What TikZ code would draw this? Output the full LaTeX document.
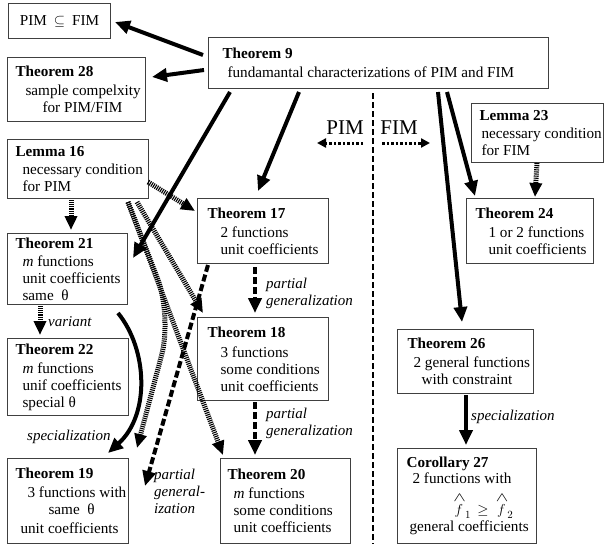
\documentclass[tikz,border=0pt]{standalone}
\usepackage{fontspec}
\setmainfont{Liberation Serif}
\usetikzlibrary{arrows.meta}
\newcommand\boxfont{\fontsize{15.2}{17}\selectfont}
\newcommand\lblfont{\fontsize{15}{17}\selectfont\itshape}
\newcommand\hatf[1]{\stackrel{\raisebox{1pt}{\scalebox{1.3}[0.9]{$\wedge$}}}{f}_{#1}}
\begin{document}
\begin{tikzpicture}[x=1pt,y=-1pt,
  box/.style={draw=black!75, line width=1.1pt, anchor=north west, inner xsep=0pt, inner ysep=0pt, align=left, font=\boxfont},
  lbl/.style={font=\lblfont, inner sep=0pt, anchor=west, align=left},
  solidarr/.style={line width=4pt, -{Triangle[length=15pt,width=13pt]}},
  dasharr/.style={line width=4pt, dash pattern=on 7pt off 3pt, -{Triangle[length=15pt,width=13pt]}},
  hatcharr/.style={line width=5pt, dash pattern=on 1.1pt off 1pt, -{Triangle[length=14pt,width=12pt]}},
  dotarr/.style={line width=3pt, dash pattern=on 2.5pt off 2pt, -{Triangle[length=9pt,width=9pt]}},
  sidelabel/.style={font=\fontsize{21}{21}\selectfont, inner sep=0pt, anchor=base}
]
\useasboundingbox (0,0) rectangle (605,544);

% boxes
\node[box,minimum width=102pt,minimum height=35pt,align=center] (pf) at (8,3) {PIM\hspace{7pt}$\subseteq$\hspace{7pt}FIM};
\node[box,minimum width=138pt,minimum height=64pt] (t28) at (7,57)
  {\makebox[138pt][l]{\hspace*{8pt}\textbf{Theorem 28}}\\[2pt]\hspace*{18pt}sample compelxity\\\hspace*{35pt}for PIM/FIM};
\node[box,minimum width=340pt,minimum height=51pt] (t9) at (208,37)
  {\makebox[340pt][l]{\hspace*{14pt}\textbf{Theorem 9}}\\[2pt]\hspace*{19pt}fundamantal characterizations of PIM and FIM};
\node[box,minimum width=132pt,minimum height=59pt] (l23) at (471,103)
  {\makebox[132pt][l]{\hspace*{8pt}\textbf{Lemma 23}}\\[1pt]\hspace*{10pt}necessary condition\\\hspace*{10pt}for FIM};
\node[box,minimum width=141pt,minimum height=59pt] (l16) at (7,139)
  {\makebox[141pt][l]{\hspace*{8pt}\textbf{Lemma 16}}\\[1pt]\hspace*{15pt}necessary condition\\\hspace*{15pt}for PIM};
\node[box,minimum width=131pt,minimum height=65pt] (t17) at (197,198)
  {\makebox[131pt][l]{\hspace*{10pt}\textbf{Theorem 17}}\\[2pt]\hspace*{23pt}2 functions\\\hspace*{23pt}unit coefficients};
\node[box,minimum width=127pt,minimum height=65pt] (t24) at (466,198)
  {\makebox[127pt][l]{\hspace*{9pt}\textbf{Theorem 24}}\\[2pt]\hspace*{22pt}1 or 2 functions\\\hspace*{22pt}unit coefficients};
\node[box,minimum width=120pt,minimum height=71pt] (t21) at (7,233)
  {\makebox[120pt][l]{\hspace*{8pt}\textbf{Theorem 21}}\\[1pt]\hspace*{15pt}\textit{m} functions\\\hspace*{15pt}unit coefficients\\\hspace*{15pt}same\ \ θ};
\node[box,minimum width=121pt,minimum height=77pt] (t22) at (7,338)
  {\makebox[121pt][l]{\hspace*{8pt}\textbf{Theorem 22}}\\[2pt]\hspace*{15pt}\textit{m} functions\\\hspace*{15pt}unif coefficients\\\hspace*{15pt}special θ};
\node[box,minimum width=131pt,minimum height=83pt] (t18) at (197,317)
  {\makebox[131pt][l]{\hspace*{10pt}\textbf{Theorem 18}}\\[3pt]\hspace*{23pt}3 functions\\\hspace*{23pt}some conditions\\\hspace*{23pt}unit coefficients};
\node[box,minimum width=136pt,minimum height=64pt] (t26) at (397,329)
  {\makebox[136pt][l]{\hspace*{10pt}\textbf{Theorem 26}}\\[2pt]\hspace*{16pt}2 general functions\\\hspace*{24pt}with constraint};
\node[box,minimum width=121pt,minimum height=85pt] (t19) at (7,458)
  {\makebox[121pt][l]{\hspace*{8pt}\textbf{Theorem 19}}\\[2pt]\hspace*{20pt}3 functions with\\\hspace*{41pt}same\ \ θ\\[2pt]\hspace*{13pt}unit coefficients};
\node[box,minimum width=130pt,minimum height=85pt] (t20) at (220,458)
  {\makebox[130pt][l]{\hspace*{7pt}\textbf{Theorem 20}}\\[2pt]\hspace*{13pt}\textit{m} functions\\\hspace*{13pt}some conditions\\\hspace*{13pt}unit coefficients};
\node[box,minimum width=139pt,minimum height=95pt] (c27) at (397,448)
  {\makebox[139pt][l]{\hspace*{9pt}\textbf{Corollary 27}}\\[-1pt]\hspace*{15pt}2 functions with\\[9pt]\hspace*{55pt}$\hatf{1}\;\,\geq\;\,\hatf{2}$\\[0pt]\hspace*{12pt}general coefficients};

% PIM / FIM divider
\coordinate (vtop) at (373,93);
\coordinate (vbot) at (373,544);
\draw[line width=2.2pt, dash pattern=on 6pt off 3pt] (vtop) -- (vbot);
\node[sidelabel] (pim) at (345,134) {PIM};
\node[sidelabel] (fim) at (399,134) {FIM};
\coordinate (pimS) at (363,143);
\coordinate (pimE) at (317,143);
\coordinate (fimS) at (382,143);
\coordinate (fimE) at (430,143);
\draw[dotarr] (pimS) -- (pimE);
\draw[dotarr] (fimS) -- (fimE);

% solid arrows from Theorem 9
\draw[solidarr] ([shift={(-5,18)}]t9.north west) -- ([shift={(107,19)}]pf.north west);
\draw[solidarr] ([shift={(-4,33)}]t9.north west) -- ([shift={(145,20)}]t28.north west);
\draw[solidarr] ([shift={(22,55)}]t9.north west) -- ([shift={(126,25)}]t21.north west);
\draw[solidarr] ([shift={(91,55)}]t9.north west) -- ([shift={(61,-7)}]t17.north west);
\draw[solidarr] ([shift={(239,55)}]t9.north west) -- ([shift={(9,-2)}]t24.north west);
\draw[solidarr] ([shift={(230,55)}]t9.north west) -- ([shift={(65,-7)}]t26.north west);

% hatched arrows
\draw[hatcharr] ([shift={(66,60)}]l23.north west) -- ([shift={(69,-1)}]t24.north west);
\draw[hatcharr] ([shift={(64,61)}]l16.north west) -- ([shift={(64,-3)}]t21.north west);
\draw[hatcharr] ([shift={(141,43)}]l16.north west) -- ([shift={(-2,13)}]t17.north west);
\draw[hatcharr] ([shift={(130,63)}]l16.north west) -- ([shift={(6,-4)}]t18.north west);
\draw[hatcharr] ([shift={(121,63)}]l16.north west) -- ([shift={(3,-3)}]t20.north west);
\draw[hatcharr, rounded corners=40pt] ([shift={(121,63)}]l16.north west) -- (172,316) -- ([shift={(130,-10)}]t19.north west);
\draw[hatcharr] ([shift={(33,73)}]t21.north west) -- ([shift={(33,-3)}]t22.north west);

% dashed arrows
\draw[dasharr] ([shift={(58,69)}]t17.north west) -- ([shift={(58,-4)}]t18.north west);
\draw[dasharr] ([shift={(11,67)}]t17.north west) -- ([shift={(138,28)}]t19.north west);
\draw[dasharr] ([shift={(58,85)}]t18.north west) -- ([shift={(35,-3)}]t20.north west);

% curved solid arrow and specialization
\draw[solidarr] ([shift={(111,80)}]t21.north west) .. controls (148,350) and (150,415) .. ([shift={(101,-5)}]t19.north west);
\draw[solidarr] ([shift={(69,66)}]t26.north west) -- ([shift={(69,-3)}]c27.north west);

% labels
\node[lbl] (lvar) at (48,322) {variant};
\node[lbl] (lspec1) at (27,437) {specialization};
\node[lbl] (lpart1) at (266,293) {partial\\generalization};
\node[lbl] (lpart2) at (266,423.5) {partial\\generalization};
\node[lbl] (lpart3) at (154,491) {partial\\general-\\ization};
\node[lbl] (lspec2) at (471,417) {specialization};
\end{tikzpicture}
\end{document}
